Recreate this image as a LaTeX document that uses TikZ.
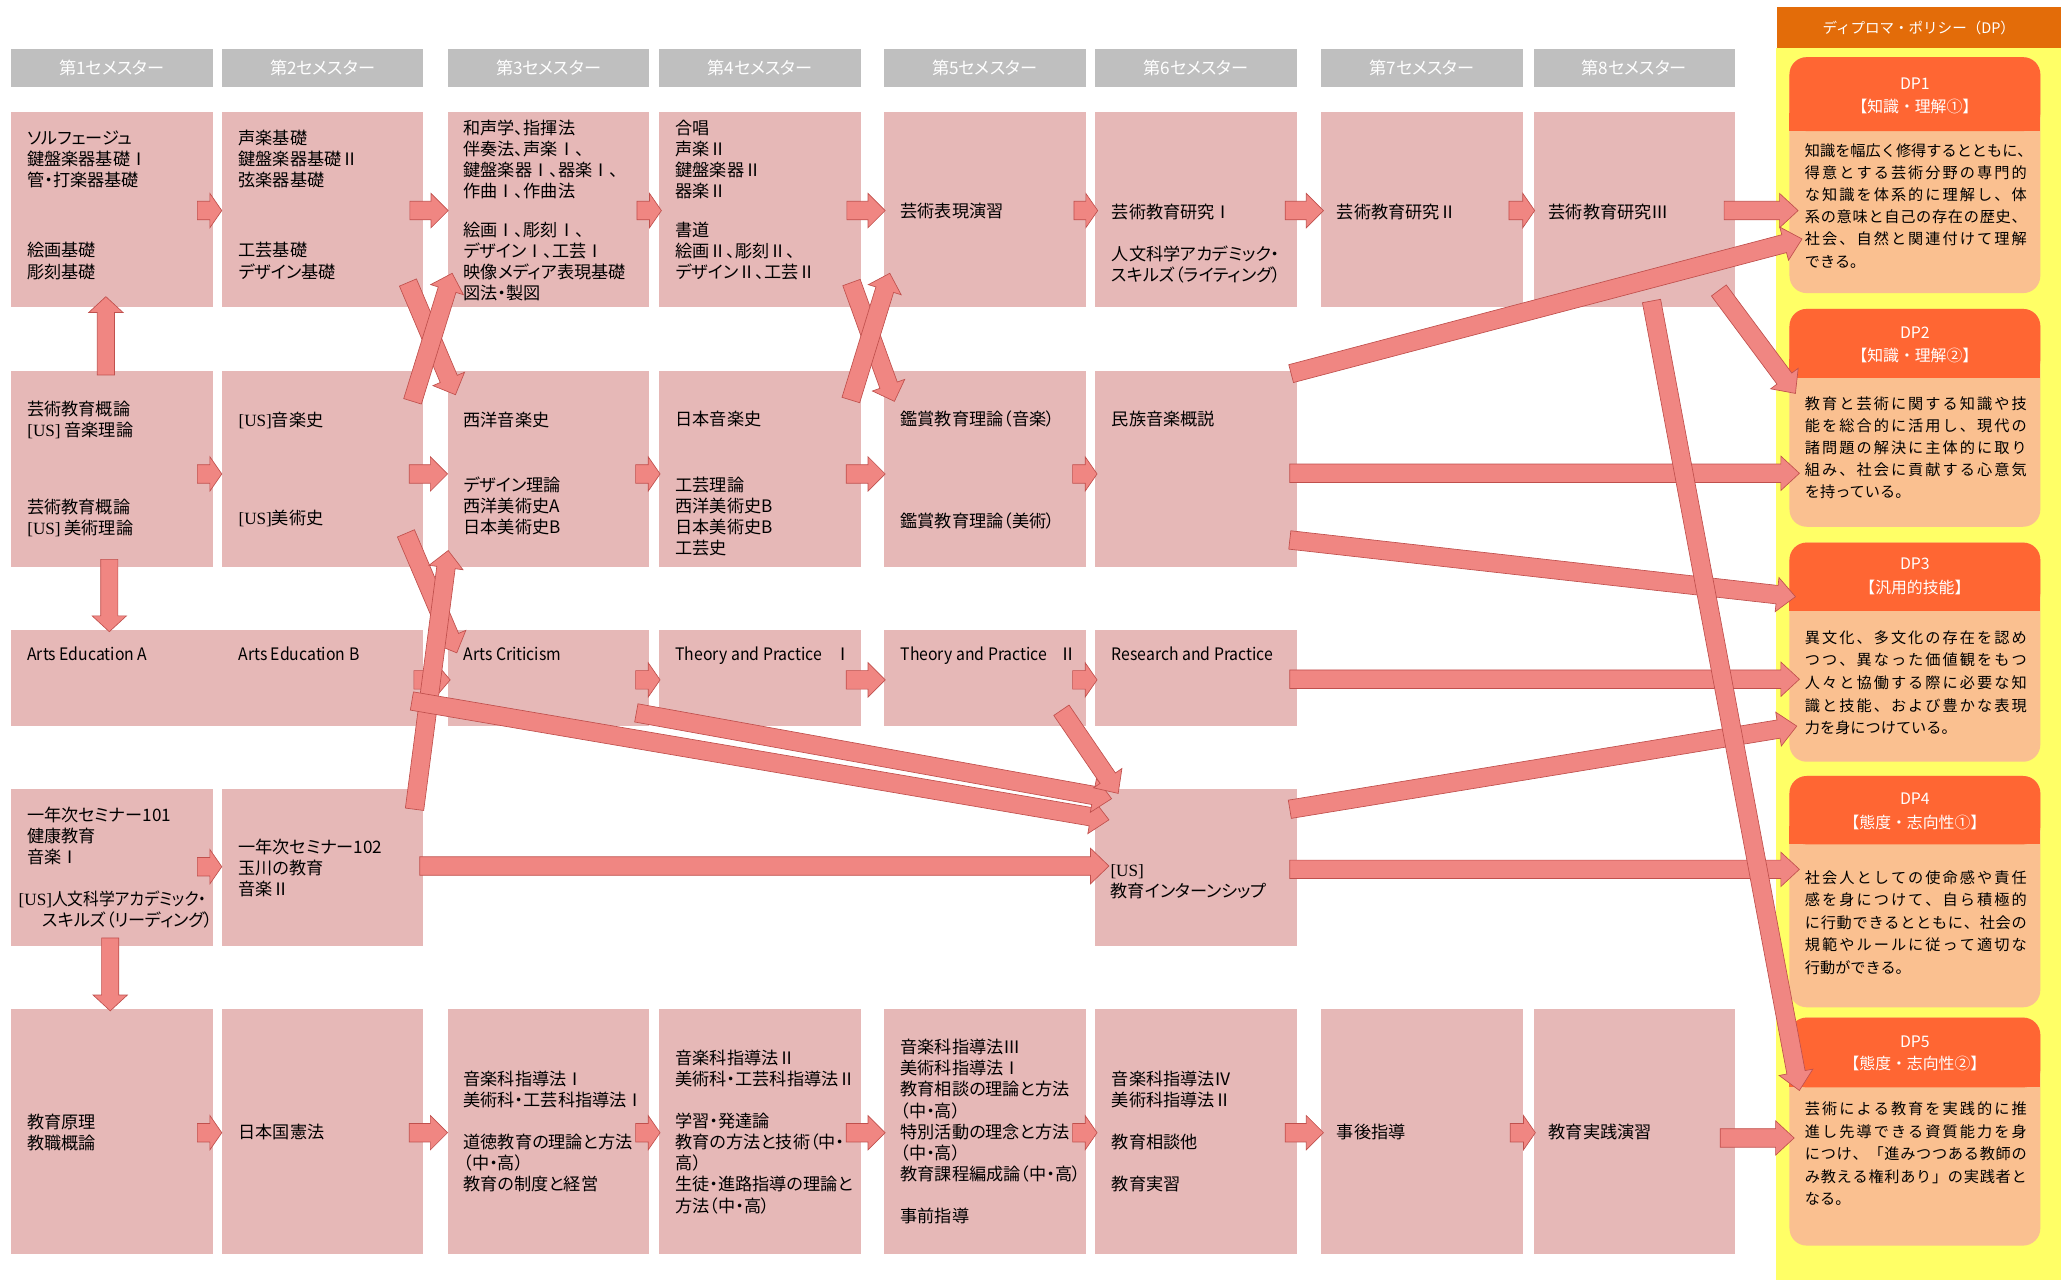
\documentclass[tikz,border=0pt]{standalone}
\usepackage{fontspec}
\setmainfont{Noto Sans CJK JP}
\newfontfamily\jp{Noto Sans CJK JP}[RawFeature=+palt]
\newfontfamily\jpn{Noto Sans CJK JP}[RawFeature=+palt,FakeStretch=0.92]
\newfontfamily\jpm{Noto Sans CJK JP}
\newfontfamily\usf{Liberation Serif}
\usetikzlibrary{calc}
\definecolor{boxpink}{HTML}{E6B8B7}
\definecolor{hdrgray}{HTML}{BFBFBF}
\definecolor{arrfill}{HTML}{F08682}
\definecolor{arredge}{HTML}{C0504D}
\definecolor{dpyellow}{HTML}{FFFF66}
\definecolor{dptop}{HTML}{E36C09}
\definecolor{dphdr}{HTML}{FF6633}
\definecolor{dpbody}{HTML}{FAC090}
\newlength\dpw \setlength\dpw{168pt}
\makeatletter
\def\jspread#1{\makebox[\dpw][s]{\js@a#1\js@end}}
\def\js@a#1{#1\js@b}
\def\js@b#1{\ifx#1\js@end\else\hskip 0pt plus 1fil\relax#1\expandafter\js@b\fi}
\def\js@end{\js@end}
\makeatother
\newcommand\blkarrow[6]{%
  \coordinate (#1s) at #2;
  \coordinate (#1e) at #3;
  \coordinate (#1q) at ($(#1e)!#6pt!(#1s)$);
  \draw[blk] ($(#1s)!#4pt!90:(#1e)$) -- ($(#1q)!#4pt!90:(#1e)$) -- ($(#1q)!#5pt!90:(#1e)$) -- (#1e) -- ($(#1q)!#5pt!-90:(#1e)$) -- ($(#1q)!#4pt!-90:(#1e)$) -- ($(#1s)!#4pt!-90:(#1e)$) -- cycle;}
\newcommand\cbx[5]{\node[cbox, minimum width=#4pt, minimum height=#5pt] (#1) at (#2,#3) {};}
\newcommand\mytext[4]{\node[txt] (#1) at (#2,{#3-6.5}) {\rule{0pt}{11.44pt}#4};}
\newcommand\dpbox[5]{%
  \node[dpb, minimum height=#5pt] (#1) at (1355.5,#2) {};
  \fill[dphdr, rounded corners=13pt] (1355.5,#2) rectangle (1545.5,#3);
  \fill[dphdr] (1355.5,{#3-14}) rectangle (1545.5,#3);}
\newcommand\dpbody[4]{\node[dptxt, font=\jpm\fontsize{11.5}{#3}\selectfont] (#1) at (1367,{#2-5.75}) {\rule{0pt}{10.12pt}#4};}
\begin{document}
\begin{tikzpicture}[x=1pt,y=-1pt,
  cbox/.style={rectangle, fill=boxpink, draw=none, inner sep=0pt, outer sep=0pt, anchor=north west},
  hbar/.style={rectangle, fill=hdrgray, inner sep=0pt, outer sep=0pt, anchor=north west, minimum width=152.7pt, minimum height=28.6pt, text=white, font=\jp\fontsize{13}{15}\selectfont, text height=11.44pt, text depth=1.56pt},
  txt/.style={anchor=north west, inner sep=0pt, align=left, font=\jp\fontsize{13}{16}\selectfont},
  blk/.style={fill=arrfill, draw=arredge, line width=0.5pt, line join=miter},
  dpb/.style={rectangle, rounded corners=13pt, fill=dpbody, minimum width=190pt, inner sep=0pt, outer sep=0pt, anchor=north west},
  dpht/.style={text=white, anchor=center, inner sep=0pt},
  dptxt/.style={anchor=north west, inner sep=0pt, align=left}]
\useasboundingbox (0,0) rectangle (1568,969.6);
\fill[white] (0,0) rectangle (1568,969.6);
% semester headers
\node[hbar] (hb1) at (8.4,37.1) {第1セメスター};
\node[hbar] (hb2) at (168,37.1) {第2セメスター};
\node[hbar] (hb3) at (339.2,37.1) {第3セメスター};
\node[hbar] (hb4) at (499.3,37.1) {第4セメスター};
\node[hbar] (hb5) at (669.6,37.1) {第5セメスター};
\node[hbar] (hb6) at (829.7,37.1) {第6セメスター};
\node[hbar] (hb7) at (1000.8,37.1) {第7セメスター};
\node[hbar] (hb8) at (1161.6,37.1) {第8セメスター};
% row 1
\cbx{b11}{8.4}{84.6}{152.7}{147.7}
\cbx{b21}{168}{84.6}{152.7}{147.7}
\cbx{b31}{339.2}{84.6}{152.7}{147.7}
\cbx{b41}{499.3}{84.6}{152.7}{147.7}
\cbx{b51}{669.6}{84.6}{152.7}{147.7}
\cbx{b61}{829.7}{84.6}{152.7}{147.7}
\cbx{b71}{1000.8}{84.6}{152.7}{147.7}
\cbx{b81}{1161.6}{84.6}{152.7}{147.7}
% row 2
\cbx{b12}{8.4}{281}{152.7}{148.8}
\cbx{b22}{168}{281}{152.7}{148.8}
\cbx{b32}{339.2}{281}{152.7}{148.8}
\cbx{b42}{499.3}{281}{152.7}{148.8}
\cbx{b52}{669.6}{281}{152.7}{148.8}
\cbx{b62}{829.7}{281}{152.7}{148.8}
% row 3
\cbx{b13}{8.4}{477.2}{312.3}{72.5}
\cbx{b33}{339.2}{477.2}{152.7}{72.5}
\cbx{b43}{499.3}{477.2}{152.7}{72.5}
\cbx{b53}{669.6}{477.2}{152.7}{72.5}
\cbx{b63}{829.7}{477.2}{152.7}{72.5}
% row 4
\cbx{b14}{8.4}{597.3}{152.7}{119.2}
\cbx{b24}{168}{597.3}{152.7}{119.2}
\cbx{b64}{829.7}{597.3}{152.7}{119.2}
% row 5
\cbx{b15}{8.4}{764}{152.7}{185.5}
\cbx{b25}{168}{764}{152.7}{185.5}
\cbx{b35}{339.2}{764}{152.7}{185.5}
\cbx{b45}{499.3}{764}{152.7}{185.5}
\cbx{b55}{669.6}{764}{152.7}{185.5}
\cbx{b65}{829.7}{764}{152.7}{185.5}
\cbx{b75}{1000.8}{764}{152.7}{185.5}
\cbx{b85}{1161.6}{764}{152.7}{185.5}
% texts row 1
\mytext{t11}{20.5}{104.5}{ソルフェージュ\\鍵盤楽器基礎Ⅰ\\管・打楽器基礎\\[37pt]絵画基礎\\彫刻基礎}
\mytext{t21}{180.5}{104.5}{声楽基礎\\鍵盤楽器基礎Ⅱ\\弦楽器基礎\\[37pt]工芸基礎\\デザイン基礎}
\mytext{t31}{351}{96.5}{和声学、指揮法\\伴奏法、声楽Ⅰ、\\鍵盤楽器Ⅰ、器楽Ⅰ、\\作曲Ⅰ、作曲法\\[13.5pt]絵画Ⅰ、彫刻Ⅰ、\\デザインⅠ、工芸Ⅰ\\映像メディア表現基礎\\図法・製図}
\mytext{t41}{511.5}{96.5}{合唱\\声楽Ⅱ\\鍵盤楽器Ⅱ\\器楽Ⅱ\\[13.5pt]書道\\絵画Ⅱ、彫刻Ⅱ、\\デザインⅡ、工芸Ⅱ}
\mytext{t51}{682}{159.5}{芸術表現演習}
\mytext{t61}{842}{160}{芸術教育研究Ⅰ\\[16pt]人文科学アカデミック・\\スキルズ（ライティング）}
\mytext{t71}{1012.5}{160}{芸術教育研究Ⅱ}
\mytext{t81}{1173}{160}{芸術教育研究Ⅲ}
% texts row 2
\mytext{t12}{20.5}{309.5}{芸術教育概論\\{\usf[US]} 音楽理論\\[42pt]芸術教育概論\\{\usf[US]} 美術理論}
\mytext{t22}{180.5}{318}{{\usf[US]}音楽史\\[58.5pt]{\usf[US]}美術史}
\mytext{t32}{351}{318}{西洋音楽史\\[33pt]デザイン理論\\西洋美術史A\\日本美術史B}
\mytext{t42}{511.5}{317.5}{日本音楽史\\[33.5pt]工芸理論\\西洋美術史B\\日本美術史B\\工芸史}
\mytext{t52}{682}{317.5}{鑑賞教育理論（音楽）\\[61pt]鑑賞教育理論（美術）}
\mytext{t62}{842}{317.5}{民族音楽概説}
% texts row 3
\mytext{t13}{20.5}{495}{{\jpn Arts Education A}}
\mytext{t23}{180.5}{495}{{\jpn Arts Education B}}
\mytext{t33}{351}{495}{{\jpn Arts Criticism}}
\mytext{t43}{511.5}{495}{{\jpn Theory and Practice}\hspace{9pt}Ⅰ}
\mytext{t53}{682}{495}{{\jpn Theory and Practice}\hspace{9pt}Ⅱ}
\mytext{t63}{842}{495}{{\jpn Research and Practice}}
% texts row 4
\mytext{t14}{20.5}{617}{一年次セミナー101\\健康教育\\音楽Ⅰ}
\mytext{t14b}{14}{681}{{\usf[US]}{\jpn 人文科学アカデミック・}}
\mytext{t14c}{32}{697}{スキルズ（リーディング）}
\mytext{t24}{180.5}{641}{一年次セミナー102\\玉川の教育\\音楽Ⅱ}
\mytext{t64}{841}{659}{{\usf[US]}\\教育インターンシップ}
% texts row 5
\mytext{t15}{20.5}{849.5}{教育原理\\教職概論}
\mytext{t25}{180.5}{857.5}{日本国憲法}
\mytext{t35}{351}{817}{音楽科指導法Ⅰ\\美術科・工芸科指導法Ⅰ\\[16pt]道徳教育の理論と方法\\（中・高）\\教育の制度と経営}
\mytext{t45}{511.5}{801}{音楽科指導法Ⅱ\\美術科・工芸科指導法Ⅱ\\[16pt]学習・発達論\\教育の方法と技術（中・\\高）\\生徒・進路指導の理論と\\方法（中・高）}
\mytext{t55}{682}{793}{音楽科指導法Ⅲ\\美術科指導法Ⅰ\\教育相談の理論と方法\\（中・高）\\特別活動の理念と方法\\（中・高）\\教育課程編成論（中・高）\\[16pt]事前指導}
\mytext{t65}{842}{817}{音楽科指導法Ⅳ\\美術科指導法Ⅱ\\[16pt]教育相談他\\[16pt]教育実習}
\mytext{t75}{1012.5}{857.5}{事後指導}
\mytext{t85}{1173}{857.5}{教育実践演習}
% DP column
\fill[dpyellow] (1345.5,36.5) rectangle (1561,969.6);
\node[rectangle, fill=dptop, anchor=north west, inner sep=0pt, minimum width=215.5pt, minimum height=31.6pt, text=white, font=\jpm\fontsize{11}{13}\selectfont, text height=9.68pt, text depth=1.32pt] (dph) at (1345.5,4.9) {ディプロマ・ポリシー（DP）};
\dpbox{dp1}{43.3}{99.3}{222}{178.7}
\dpbox{dp2}{234}{286}{399}{165}
\dpbox{dp3}{411}{462.5}{577}{166}
\dpbox{dp4}{587.8}{639.6}{763}{175.2}
\dpbox{dp5}{770.8}{823.7}{943.5}{172.7}
\node[dpht, font=\jpm\fontsize{12}{14}\selectfont, text height=10.56pt, text depth=1.44pt] (dp1a) at (1450.5,63.6) {DP1};
\node[dpht, font=\jpm\fontsize{12}{14}\selectfont, text height=10.56pt, text depth=1.44pt] (dp1b) at (1450.5,80.6) {【知識・理解①】};
\node[dpht, font=\jpm\fontsize{12}{14}\selectfont, text height=10.56pt, text depth=1.44pt] (dp2a) at (1450.5,251.6) {DP2};
\node[dpht, font=\jpm\fontsize{12}{14}\selectfont, text height=10.56pt, text depth=1.44pt] (dp2b) at (1450.5,269.2) {【知識・理解②】};
\node[dpht, font=\jpm\fontsize{12}{14}\selectfont, text height=10.56pt, text depth=1.44pt] (dp3a) at (1450.5,426.9) {DP3};
\node[dpht, font=\jpm\fontsize{12}{14}\selectfont, text height=10.56pt, text depth=1.44pt] (dp3b) at (1450.5,444.8) {【汎用的技能】};
\node[dpht, font=\jpm\fontsize{12}{14}\selectfont, text height=10.56pt, text depth=1.44pt] (dp4a) at (1450.5,604.9) {DP4};
\node[dpht, font=\jpm\fontsize{12}{14}\selectfont, text height=10.56pt, text depth=1.44pt] (dp4b) at (1450.5,622.8) {【態度・志向性①】};
\node[dpht, font=\jpm\fontsize{12}{14}\selectfont, text height=10.56pt, text depth=1.44pt] (dp5a) at (1450.5,788.7) {DP5};
\node[dpht, font=\jpm\fontsize{12}{14}\selectfont, text height=10.56pt, text depth=1.44pt] (dp5b) at (1450.5,805.9) {【態度・志向性②】};
\dpbody{dp1t}{113.8}{16.8}{\jspread{知識を幅広く修得するとともに、}\\\jspread{得意とする芸術分野の専門的}\\\jspread{な知識を体系的に理解し、体}\\\jspread{系の意味と自己の存在の歴史、}\\\jspread{社会、自然と関連付けて理解}\\できる。}
\dpbody{dp2t}{305.5}{16.6}{\jspread{教育と芸術に関する知識や技}\\\jspread{能を総合的に活用し、現代の}\\\jspread{諸問題の解決に主体的に取り}\\\jspread{組み、社会に貢献する心意気}\\を持っている。}
\dpbody{dp3t}{482.5}{17.2}{\jspread{異文化、多文化の存在を認め}\\\jspread{つつ、異なった価値観をもつ}\\\jspread{人々と協働する際に必要な知}\\\jspread{識と技能、および豊かな表現}\\力を身につけている。}
\dpbody{dp4t}{664.5}{17}{\jspread{社会人としての使命感や責任}\\\jspread{感を身につけて、自ら積極的}\\\jspread{に行動できるとともに、社会の}\\\jspread{規範やルールに従って適切な}\\行動ができる。}
\dpbody{dp5t}{839.8}{17}{\jspread{芸術による教育を実践的に推}\\\jspread{進し先導できる資質能力を身}\\\jspread{につけ、「進みつつある教師の}\\\jspread{み教える権利あり」の実践者と}\\なる。}
% arrows row 1
\blkarrow{a12}{(149.5,159.5)}{(168,159.5)}{7}{13}{9}
\blkarrow{a23}{(310.5,159.5)}{(339.5,159.5)}{7}{13}{13}
\blkarrow{a34}{(482.5,159.5)}{(501,159.5)}{7}{13}{9}
\blkarrow{a45}{(641.5,159.5)}{(670.5,159.5)}{7}{13}{13}
\blkarrow{a56}{(813.5,159.5)}{(831.5,159.5)}{7}{13}{9}
\blkarrow{a67}{(973.5,159.5)}{(1002.5,159.5)}{7}{13}{13}
\blkarrow{a78}{(1143,159.5)}{(1162.5,159.5)}{7}{13}{9}
\blkarrow{a8d}{(1306,159.5)}{(1362,159.5)}{7}{13}{14}
% arrows row 2
\blkarrow{b12a}{(149.5,359)}{(168,359)}{7}{13}{9}
\blkarrow{b23a}{(310,359)}{(339,359)}{7}{13}{13}
\blkarrow{b34a}{(481.5,359)}{(500,359)}{7}{13}{9}
\blkarrow{b45a}{(641,359)}{(670.5,359)}{7}{13}{13}
\blkarrow{b56a}{(812.5,359)}{(831,359)}{7}{13}{9}
% arrows row 3
\blkarrow{r23}{(313.5,515)}{(341,515)}{7}{13}{11}
\blkarrow{r34}{(481.5,515)}{(500,515)}{7}{13}{9}
\blkarrow{r45}{(641,515)}{(670.5,515)}{7}{13}{13}
\blkarrow{r56}{(812.5,515)}{(831,515)}{7}{13}{9}
% arrows row 4
\blkarrow{f12}{(149.5,656.5)}{(168,656.5)}{7}{13}{9}
% arrows row 5
\blkarrow{g12}{(149.5,858)}{(168,858)}{7}{13}{9}
\blkarrow{g23}{(310,858)}{(339,858)}{7}{13}{13}
\blkarrow{g34}{(481.5,858)}{(500,858)}{7}{13}{9}
\blkarrow{g45}{(641,858)}{(670.5,858)}{7}{13}{13}
\blkarrow{g56}{(812.5,858)}{(831,858)}{7}{13}{9}
\blkarrow{g67}{(973.5,858)}{(1002.5,858)}{7}{13}{13}
\blkarrow{g78}{(1144,858)}{(1163,858)}{7}{13}{9}
\blkarrow{g8d}{(1303,862)}{(1359,862)}{7}{13}{14}
% vertical arrows
\blkarrow{v1}{(80.2,284)}{(80.2,224.7)}{6.5}{13}{12}
\blkarrow{v2}{(82.8,423.7)}{(82.8,478.5)}{6.5}{13}{12}
\blkarrow{v3}{(83.5,710.5)}{(83.5,765.7)}{6.5}{13}{12}
% diagonal arrows
\blkarrow{d1}{(309,214)}{(345,299)}{7}{13}{13}
\blkarrow{u1}{(312.5,304)}{(342.5,207)}{7}{13}{13}
\blkarrow{d2}{(645,214)}{(677.5,304)}{7}{13}{13}
\blkarrow{u2}{(644.5,303)}{(674,207)}{7}{13}{13}
\blkarrow{d3}{(307.5,404)}{(346,494.5)}{7}{13}{13}
\blkarrow{u3}{(314,613)}{(339.5,417)}{7}{13}{13}
\blkarrow{L1}{(312,531)}{(840,621)}{7}{13}{14}
\blkarrow{L2}{(482,540)}{(842,605)}{7}{13}{14}
\blkarrow{L3}{(804,538)}{(847,601)}{7}{13}{14}
\blkarrow{f26}{(318,656)}{(840,656)}{7}{13.5}{14}
% arrows to DP
\blkarrow{E1}{(978,283)}{(1365,181)}{7}{13}{14}
\blkarrow{b6d}{(977,358.5)}{(1363,358.5)}{7}{13}{14}
\blkarrow{E4}{(977,409)}{(1360,452)}{7}{13}{14}
\blkarrow{r6d}{(977,514.5)}{(1363,514.5)}{7}{13}{14}
\blkarrow{E5}{(977,613)}{(1361,550)}{7}{13}{14}
\blkarrow{f6d}{(977,658.5)}{(1363,658.5)}{7}{13}{14}
\blkarrow{E2}{(1302,220)}{(1360,298)}{7}{13}{14}
\blkarrow{E3}{(1251,228)}{(1363,826)}{7}{13}{14}
\end{tikzpicture}
\end{document}
